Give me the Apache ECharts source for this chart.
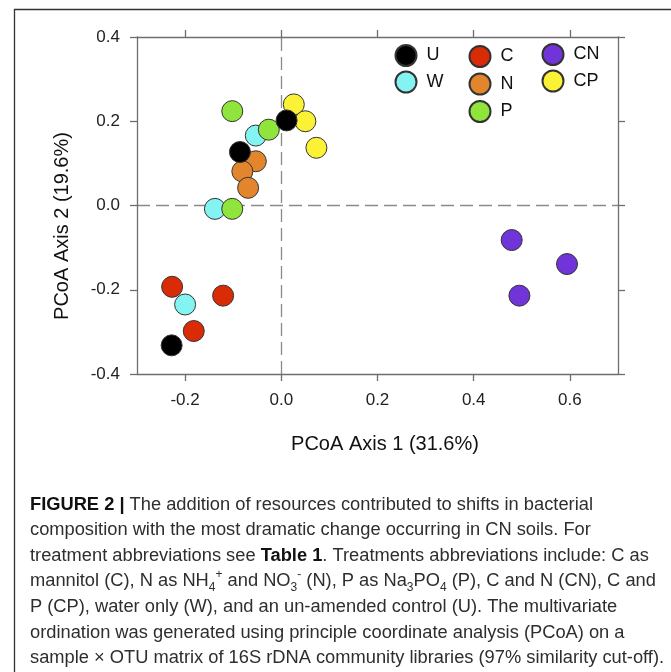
<!DOCTYPE html>
<html><head><meta charset="utf-8">
<script src="https://cdn.jsdelivr.net/npm/echarts@6/dist/echarts.min.js"></script>
<style>html,body{margin:0;padding:0;background:#fff;}#c{width:671px;height:672px;}</style>
</head><body><div id="c"></div>
<script>
// ---- data ----
const groups = ['U','W','C','N','P','CN','CP'];
const U  = [[0.011,0.202],[-0.086,0.127],[-0.228,-0.332]];
const W  = [[-0.053,0.166],[-0.138,-0.008],[-0.200,-0.235]];
const C  = [[-0.227,-0.193],[-0.121,-0.214],[-0.182,-0.298]];
const N  = [[-0.053,0.105],[-0.081,0.081],[-0.069,0.042]];
const P  = [[-0.102,0.224],[-0.026,0.180],[-0.102,-0.008]];
const CN = [[0.479,-0.082],[0.594,-0.139],[0.495,-0.214]];
const CP = [[0.026,0.240],[0.050,0.200],[0.073,0.137]];
const xTicks = [-0.2,0,0.2,0.4,0.6];
const yTicks = [-0.4,-0.2,0,0.2,0.4];
const xTitle = 'PCoA Axis 1 (31.6%)';
const yTitle = 'PCoA Axis 2 (19.6%)';
const captionLines = [
  '{b|FIGURE 2 |} The addition of resources contributed to shifts in bacterial',
  'composition with the most dramatic change occurring in CN soils. For',
  'treatment abbreviations see {b|Table 1}. Treatments abbreviations include: C as',
  'mannitol (C), N as NH{sub|4}{sup|+} and NO{sub|3}{sup|-} (N), P as Na{sub|3}PO{sub|4} (P), C and N (CN), C and',
  'P (CP), water only (W), and an un-amended control (U). The multivariate',
  'ordination was generated using principle coordinate analysis (PCoA) on a',
  'sample \u00d7 OTU matrix of 16S rDNA community libraries (97% similarity cut-off).'
];
// ---- styles ----
const colors = {U:'#000000',W:'#84f4f2',C:'#d92b06',N:'#e2852c',P:'#8fe53c',CN:'#7034d8',CP:'#fcf235'};
const values = {U,W,C,N,P,CN,CP};
const zOrder = {U:5,W:2,C:2,N:4,P:3,CN:2,CP:1};
const FONT = 'Liberation Sans';
const axisCol = '#6e6e6e';

const series = groups.map(g => ({
  name: g, type: 'scatter', data: values[g], symbol: 'circle', symbolSize: 21,
  z: zOrder[g],
  itemStyle: {color: colors[g], borderColor: '#333', borderWidth: 1, opacity: 1},
  emphasis: {disabled: true}
}));
series[0].markLine = {
  silent: true, symbol: 'none', animation: false, z: 0,
  label: {show: false},
  lineStyle: {color: '#8a8a8a', type: [13, 6], width: 1.3},
  data: [{xAxis: 0}, {yAxis: 0}]
};

function legend(names, left, top, gap){
  return {data: names, left, top, padding: 0, orient: 'vertical', itemWidth: 21, itemHeight: 21, itemGap: gap,
    icon: 'circle', selectedMode: false,
    textStyle: {fontFamily: FONT, fontSize: 18, lineHeight: 21, color: '#111', padding: [0,0,0,5]}};
}

const graphic = [
  {type:'line', shape:{x1:14,y1:9.5,x2:671,y2:9.5}, style:{stroke:'#333',lineWidth:1.3}},
  {type:'line', shape:{x1:14.5,y1:9,x2:14.5,y2:672}, style:{stroke:'#333',lineWidth:1.3}},
  {type:'text', x:385, y:444, style:{text:xTitle, font:'20px "Liberation Sans"', fill:'#111', align:'center', verticalAlign:'middle'}},
  {type:'text', x:62, y:226, rotation:Math.PI/2, style:{text:yTitle, font:'20px "Liberation Sans"', fill:'#111', align:'center', verticalAlign:'middle'}}
];
captionLines.forEach((t,i) => {
  graphic.push({type:'text', left:30, top:492 + i*25.6, style:{
    text:t, fontFamily:FONT, fontSize:18.3, fill:'#2e2e2e', lineHeight:25,
    rich:{
      b:{fontFamily:FONT, fontSize:18.3, fontWeight:'bold', fill:'#111', lineHeight:25},
      sub:{fontFamily:FONT, fontSize:12, lineHeight:13, verticalAlign:'bottom', fill:'#2e2e2e'},
      sup:{fontFamily:FONT, fontSize:12, lineHeight:13, verticalAlign:'top', fill:'#2e2e2e'}
    }}});
});

const axisLine = {show:true, onZero:false, lineStyle:{color:axisCol, width:1.3}};
const axisTick = {show:true, inside:false, length:7, lineStyle:{color:axisCol, width:1.3}};
const option = {
  animation: false,
  backgroundColor: '#fff',
  grid: {left:137, right:53, top:37, bottom:298, containLabel:false},
  xAxis: [
    {type:'value', position:'bottom', min:-0.3, max:0.7, splitLine:{show:false}, axisLine,
     axisTick:{...axisTick, customValues:xTicks},
     axisLabel:{customValues:xTicks, margin:18, fontFamily:FONT, fontSize:17, color:'#222',
       formatter: v => v.toFixed(1)}},
    {type:'value', position:'top', min:-0.3, max:0.7, splitLine:{show:false}, axisLine,
     axisTick:{...axisTick, customValues:xTicks}, axisLabel:{show:false}}
  ],
  yAxis: [
    {type:'value', position:'left', min:-0.4, max:0.4, interval:0.2, splitLine:{show:false}, axisLine, axisTick,
     axisLabel:{margin:17, fontFamily:FONT, fontSize:17, color:'#222', formatter: v => v.toFixed(1)}},
    {type:'value', position:'right', min:-0.4, max:0.4, interval:0.2, splitLine:{show:false}, axisLine, axisTick,
     axisLabel:{show:false}}
  ],
  legend: [legend(['U','W'],394.5,44,3.5), legend(['C','N','P'],468.5,45,4.5), legend(['CN','CP'],541.5,43,3.5)],
  series,
  graphic
};
const chart = echarts.init(document.getElementById('c'), null, {renderer:'canvas'});
chart.setOption(option);
</script></body></html>
